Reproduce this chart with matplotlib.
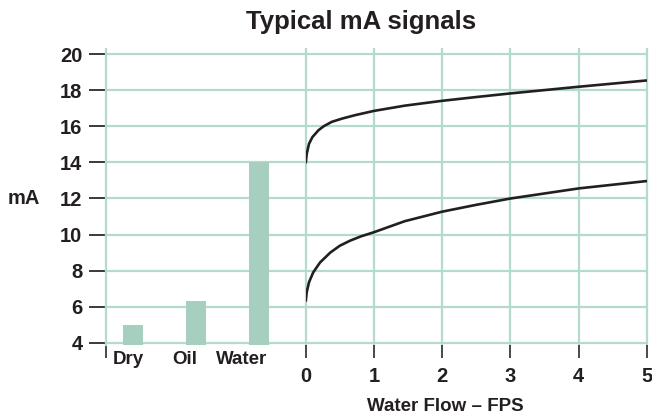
import matplotlib
matplotlib.use("Agg")
import matplotlib.pyplot as plt
import matplotlib.transforms as mtransforms

plt.rcParams['font.family'] = ['Liberation Sans', 'DejaVu Sans']
plt.rcParams['font.weight'] = 'bold'

# ---- data ----
categories = ["Dry", "Oil", "Water"]
category_values = [5.0, 6.3, 14.0]

upper_fps = [0, 0.015, 0.048, 0.097, 0.185, 0.26, 0.38, 0.53, 0.72, 1.0, 1.45, 2, 2.5, 3, 4, 5]
upper_signal = [13.95, 14.47, 15.03, 15.4, 15.78, 16.0, 16.25, 16.43, 16.62, 16.86, 17.15, 17.42, 17.63, 17.83, 18.2, 18.55]

lower_fps = [0, 0.015, 0.048, 0.11, 0.21, 0.36, 0.5, 0.65, 0.81, 1.0, 1.45, 2, 2.5, 3, 4, 5]
lower_signal = [6.28, 6.8, 7.35, 7.9, 8.45, 9.0, 9.38, 9.66, 9.9, 10.13, 10.74, 11.27, 11.65, 12.0, 12.56, 12.97]

y_ticks = [4, 6, 8, 10, 12, 14, 16, 18, 20]
x_ticks = [0, 1, 2, 3, 4, 5]

title = "Typical mA signals"
y_label = "mA"
x_label = "Water Flow \u2013 FPS"

# ---- styles ----
GRID = "#b4dccd"
BAR = "#a6cfbf"
INK = "#231f20"
TICK = "#3a3a3a"

W, H = 652, 419
fig = plt.figure(figsize=(W / 100, H / 100), dpi=100)

y_px_per_unit = (342.7 - 54.3) / 16.0
ylim = (3.9, 20.3)
bottom_px = 342.7 + (4 - ylim[0]) * y_px_per_unit
top_px = 342.7 - (ylim[1] - 4) * y_px_per_unit
ax_b = (H - bottom_px) / H
ax_h = (bottom_px - top_px) / H

left_px, mid_px, right_px = 106.0, 305.7, 647.0
axL = fig.add_axes([left_px / W, ax_b, (mid_px - left_px) / W, ax_h])
axR = fig.add_axes([mid_px / W, ax_b, (right_px - mid_px) / W, ax_h])

for ax in (axL, axR):
    ax.set_ylim(*ylim)
    ax.set_yticks(y_ticks)
    ax.set_facecolor("none")
    for s in ax.spines.values():
        s.set_visible(False)
    ax.grid(True, axis="y", color=GRID, linewidth=1.6, zorder=0)
    ax.set_axisbelow(True)

# left panel: bars
pos = list(range(len(categories)))
axL.bar(pos, category_values, width=0.32, color=BAR, zorder=2)
axL.set_xlim(-0.43, 2.75)
axL.spines["left"].set_visible(True)
axL.spines["left"].set_color(GRID)
axL.spines["left"].set_linewidth(1.6)
axL.set_yticklabels([str(v) for v in y_ticks], fontsize=14.5, fontweight="bold", color=INK)
axL.tick_params(axis="y", direction="out", length=12, width=1.4, color=TICK, pad=5)
axL.set_xticks(pos)
axL.set_xticklabels(categories, fontsize=13.5, fontweight="bold", color=INK)
axL.tick_params(axis="x", which="major", length=0, pad=4.5)
axL.set_xticks([axL.get_xlim()[0]], minor=True)
axL.tick_params(axis="x", which="minor", direction="out", length=9, width=1.3, color=TICK)
for i, lab in enumerate(axL.get_xticklabels()):
    off = mtransforms.ScaledTranslation((-5 - 6 * i) / 100, 0, fig.dpi_scale_trans)
    lab.set_transform(lab.get_transform() + off)

# right panel: flow curves
axR.plot(upper_fps, upper_signal, color=INK, linewidth=1.9, zorder=3,
         solid_capstyle="butt", solid_joinstyle="round")
axR.plot(lower_fps, lower_signal, color=INK, linewidth=1.9, zorder=3,
         solid_capstyle="butt", solid_joinstyle="round")
axR.set_xlim(0, 5)
axR.set_xticks(x_ticks)
axR.set_xticklabels([str(v) for v in x_ticks], fontsize=14.5, fontweight="bold", color=INK)
axR.tick_params(axis="x", direction="out", length=9, width=1.3, color=TICK, pad=7.5)
axR.tick_params(axis="y", left=False, labelleft=False)
axR.grid(True, axis="x", color=GRID, linewidth=1.6, zorder=0)
for ln in axR.get_xgridlines():
    ln.set_clip_on(False)

fig.text(361.5 / W, 1 - 22 / H, title, fontsize=18.5, fontweight="bold",
         color=INK, ha="center", va="center")
fig.text(24 / W, 1 - 198 / H, y_label, fontsize=14.5, fontweight="bold",
         color=INK, ha="center", va="center")
fig.text(445 / W, 1 - 406.5 / H, x_label, fontsize=13.5, fontweight="bold",
         color=INK, ha="center", va="center")

fig.savefig("out.png", dpi=100)
